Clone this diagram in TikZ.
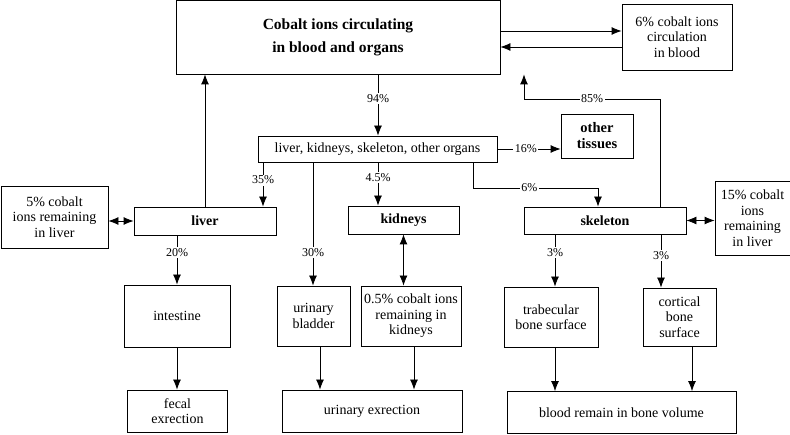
\documentclass[tikz,border=0pt]{standalone}
\usepackage{fontspec}
\setmainfont{Liberation Serif}
\usepackage{tikz}
\usetikzlibrary{arrows.meta,calc}

\begin{document}
\begin{tikzpicture}[
    x=1pt,y=-1pt,
    box/.style={draw,line width=0.8pt,align=center,inner sep=1pt,font=\fontsize{14}{15.5}\selectfont},
    bbox/.style={box,font=\fontsize{15.5}{18}\selectfont\bfseries},
    pct/.style={fill=white,inner sep=1.5pt,font=\fontsize{12}{14}\selectfont},
    every path/.style={line width=0.8pt},
    >={Latex[length=10pt,width=8pt]},
]
    \useasboundingbox (0,0) rectangle (790,435);

    % top row
    \node[bbox,minimum width=324,minimum height=74] (main) at (338,37) {Cobalt ions circulating\\[5pt]in blood and organs};
    \node[box,minimum width=110,minimum height=66] (blood) at (677,37) {6\% cobalt ions\\circulation\\in blood};

    % organs
    \node[box,minimum width=239,minimum height=26] (organs) at (377.5,149) {liver, kidneys, skeleton, other organs};
    \node[bbox,minimum width=72,minimum height=44,font=\fontsize{14.5}{16}\selectfont\bfseries] (tissues) at (597,136) {other\\tissues};

    % liver, kidneys, skeleton
    \node[box,minimum width=107,minimum height=62] (remliver) at (54.5,217) {5\% cobalt\\ions remaining\\in liver};
    \node[bbox,minimum width=142,minimum height=28,font=\fontsize{14}{16}\selectfont\bfseries] (liver) at (205,221) {liver};
    \node[bbox,minimum width=111,minimum height=28,font=\fontsize{14}{16}\selectfont\bfseries] (kidneys) at (403.5,220) {kidneys};
    \node[bbox,minimum width=162,minimum height=27,font=\fontsize{14}{16}\selectfont\bfseries] (skeleton) at (605,220.5) {skeleton};
    \node[box,minimum width=75,minimum height=74] (remskel) at (752.5,218) {15\% cobalt\\ions\\remaining\\in liver};

    % second level
    \node[box,minimum width=106,minimum height=62] (intestine) at (177,316) {intestine};
    \node[box,minimum width=73,minimum height=60] (bladder) at (313.5,316) {urinary\\bladder};
    \node[box,minimum width=100,minimum height=60] (remkid) at (411,316) {0.5\% cobalt ions\\remaining in\\kidneys};
    \node[box,minimum width=94,minimum height=60] (trab) at (551,317) {trabecular\\bone surface};
    \node[box,minimum width=73,minimum height=58] (cortical) at (679.5,317) {cortical\\bone\\surface};

    % bottom row
    \node[box,minimum width=100,minimum height=42] (fecal) at (177.5,411) {fecal\\exrection};
    \node[box,minimum width=180,minimum height=42] (urinary) at (372,411) {urinary exrection};
    \node[box,minimum width=229,minimum height=42] (boneblood) at (621.5,412.5) {blood remain in bone volume};

    % blood exchange
    \draw[->] (main.east |- 0,31) -- (blood.west |- 0,31);
    \draw[->] (blood.west |- 0,47) -- (main.east |- 0,47);

    \draw[->] (378,0 |- main.south) -- node[pct,pos=0.4] {94\%} (378,0 |- organs.north);
    \draw[->] (organs.east) -- node[pct,pos=0.45] {16\%} (organs.east -| tissues.west);

    % from organs
    \draw[->] (263,0 |- organs.south) -- node[pct,pos=0.4] {35\%} (263,0 |- liver.north);
    \draw[->] (313,0 |- organs.south) -- node[pct,pos=0.73] {30\%} (313,0 |- bladder.north);
    \draw[->] (378,0 |- organs.south) -- node[pct,pos=0.35] {4.5\%} (378,0 |- kidneys.north);
    \draw[->] (473,0 |- organs.south) -- (473,188) -- node[pct,pos=0.45] {6\%} (598,188) -- (598,0 |- skeleton.north);

    % back to blood
    \draw[->] (205,0 |- liver.north) -- (205,0 |- main.south);
    \draw[->] (660,0 |- skeleton.north) -- (660,99) -- node[pct] {85\%} (524,99) -- (524,0 |- main.south);

    % stores
    \draw[<->] (liver.west) -- (liver.west -| remliver.east);
    \draw[<->] (skeleton.east) -- (skeleton.east -| remskel.west);
    \draw[<->] (kidneys.south) -- (kidneys.south |- remkid.north);

    % lower flows
    \draw[->] (177,0 |- liver.south) -- node[pct,pos=0.35] {20\%} (177,0 |- intestine.north);
    \draw[->] (555,0 |- skeleton.south) -- node[pct,pos=0.35] {3\%} (555,0 |- trab.north);
    \draw[->] (661,0 |- skeleton.south) -- node[pct,pos=0.4] {3\%} (661,0 |- cortical.north);
    \draw[->] (177,0 |- intestine.south) -- (177,0 |- fecal.north);
    \draw[->] (320,0 |- bladder.south) -- (320,0 |- urinary.north);
    \draw[->] (414,0 |- remkid.south) -- (414,0 |- urinary.north);
    \draw[->] (555,0 |- trab.south) -- (555,0 |- boneblood.north);
    \draw[->] (692,0 |- cortical.south) -- (692,0 |- boneblood.north);
\end{tikzpicture}
\end{document}
